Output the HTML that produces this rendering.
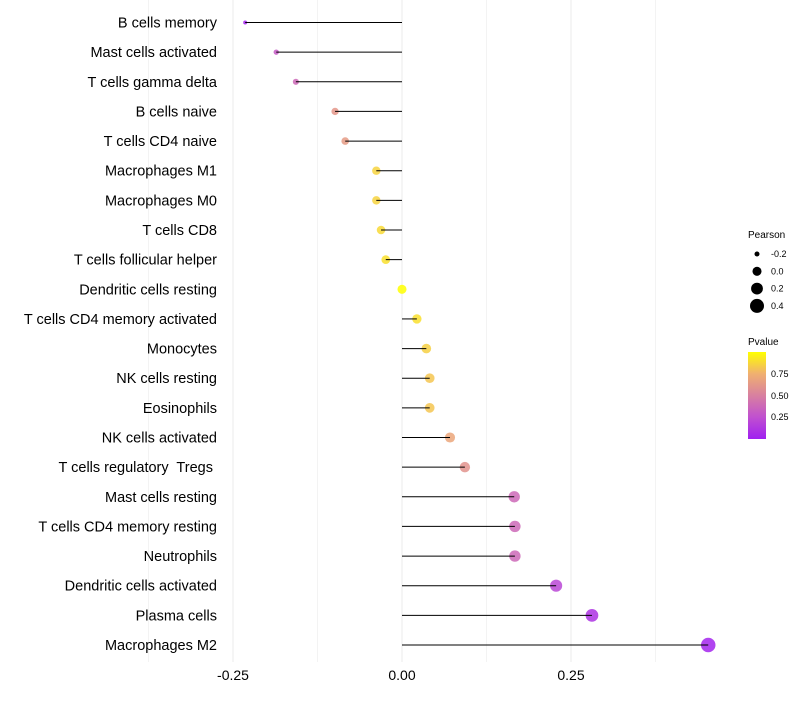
<!DOCTYPE html>
<html><head><meta charset="utf-8"><style>
body{margin:0;background:#fff;font-family:"Liberation Sans",sans-serif;}
text{white-space:pre;}
</style></head><body>
<svg id="chart" width="800" height="700" xmlns="http://www.w3.org/2000/svg" font-family="Liberation Sans, sans-serif">
<defs><linearGradient id="pg" x1="0" y1="1" x2="0" y2="0">
<stop offset="0" stop-color="#a020f0"/><stop offset="0.25" stop-color="#c050d0"/><stop offset="0.5" stop-color="#d880a0"/><stop offset="0.75" stop-color="#f0b070"/><stop offset="1" stop-color="#ffff00"/>
</linearGradient></defs>
<g id="grid"></g><g id="points"></g><g id="marks"></g><g id="ylabels"></g><g id="xlabels"></g>
<g font-size="9">
<text x="748" y="238" font-size="10">Pearson</text>
<g id="sizeleg"></g>
</g>
<g font-size="9">
<text x="748" y="345" font-size="10">Pvalue</text>
<rect x="748" y="352" width="18" height="87" fill="url(#pg)"/>
<text x="771" y="377">0.75</text><text x="771" y="399">0.50</text><text x="771" y="420">0.25</text>
</g>
</svg>
<script>
const categories=["B cells memory","Mast cells activated","T cells gamma delta","B cells naive","T cells CD4 naive","Macrophages M1","Macrophages M0","T cells CD8","T cells follicular helper","Dendritic cells resting","T cells CD4 memory activated","Monocytes","NK cells resting","Eosinophils","NK cells activated","T cells regulatory  Tregs ","Mast cells resting","T cells CD4 memory resting","Neutrophils","Dendritic cells activated","Plasma cells","Macrophages M2"];
const pearson=[-0.232,-0.186,-0.157,-0.099,-0.084,-0.038,-0.038,-0.031,-0.024,0.0,0.022,0.036,0.041,0.041,0.071,0.093,0.166,0.167,0.167,0.228,0.281,0.453];
const pvalues=[0.02,0.3,0.38,0.62,0.64,0.86,0.86,0.88,0.9,1.0,0.9,0.85,0.82,0.82,0.7,0.6,0.38,0.38,0.38,0.2,0.1,0.02];
const xTicks=[-0.25,0,0.25];
const xTickLabels=["-0.25","0.00","0.25"];
const sizeLegend=[-0.2,0,0.2,0.4];
const NS="http://www.w3.org/2000/svg";
const x=v=>402+v*676;
const y=i=>22.5+i*(622.5/21);
const r=v=>Math.sqrt(Math.max(1,20.5+71.25*v));
const stops=[[0,[160,32,240]],[0.25,[192,80,208]],[0.5,[216,128,160]],[0.75,[240,176,112]],[1,[255,255,0]]];
function col(p){for(let k=1;k<stops.length;k++){if(p<=stops[k][0]){const a=stops[k-1],b=stops[k],t=(p-a[0])/(b[0]-a[0]);return "rgb("+a[1].map((c,j)=>Math.round(c+(b[1][j]-c)*t)).join(",")+")";}}return "rgb(255,255,0)";}
function mk(tag,attrs,parent){const e=document.createElementNS(NS,tag);for(const k in attrs)e.setAttribute(k,attrs[k]);document.getElementById(parent).appendChild(e);return e;}
for(let v=-0.375;v<=0.45;v+=0.125){const g=mk("line",{x1:x(v),x2:x(v),y1:0,y2:662,stroke:"#ebebeb","stroke-width":Math.abs(v*8%2)<0.01?1:0.6},"grid");

}
xTicks.forEach((v,i)=>{const t=mk("text",{x:x(v),y:680,"text-anchor":"middle","font-size":14,fill:"#000"},"xlabels");t.textContent=xTickLabels[i];

});
categories.forEach((c,i)=>{
const t=mk("text",{x:217,y:y(i)+5,"text-anchor":"end","font-size":14.5,fill:"#000"},"ylabels");t.textContent=c;


const p=mk("circle",{cx:x(pearson[i]),cy:y(i),r:r(pearson[i]),fill:col(pvalues[i]),"fill-opacity":0.85},"points");


const l=mk("line",{x1:x(0),x2:x(pearson[i]),y1:y(i),y2:y(i),stroke:"#000","stroke-width":1},"marks");


});
sizeLegend.forEach((v,i)=>{const cy=254+i*17.3;
const c=mk("circle",{cx:757,cy:cy,r:r(v),fill:"#000"},"sizeleg");


const t=mk("text",{x:771,y:cy+3},"sizeleg");t.textContent=v.toFixed(1);

});
</script>
</body></html>
